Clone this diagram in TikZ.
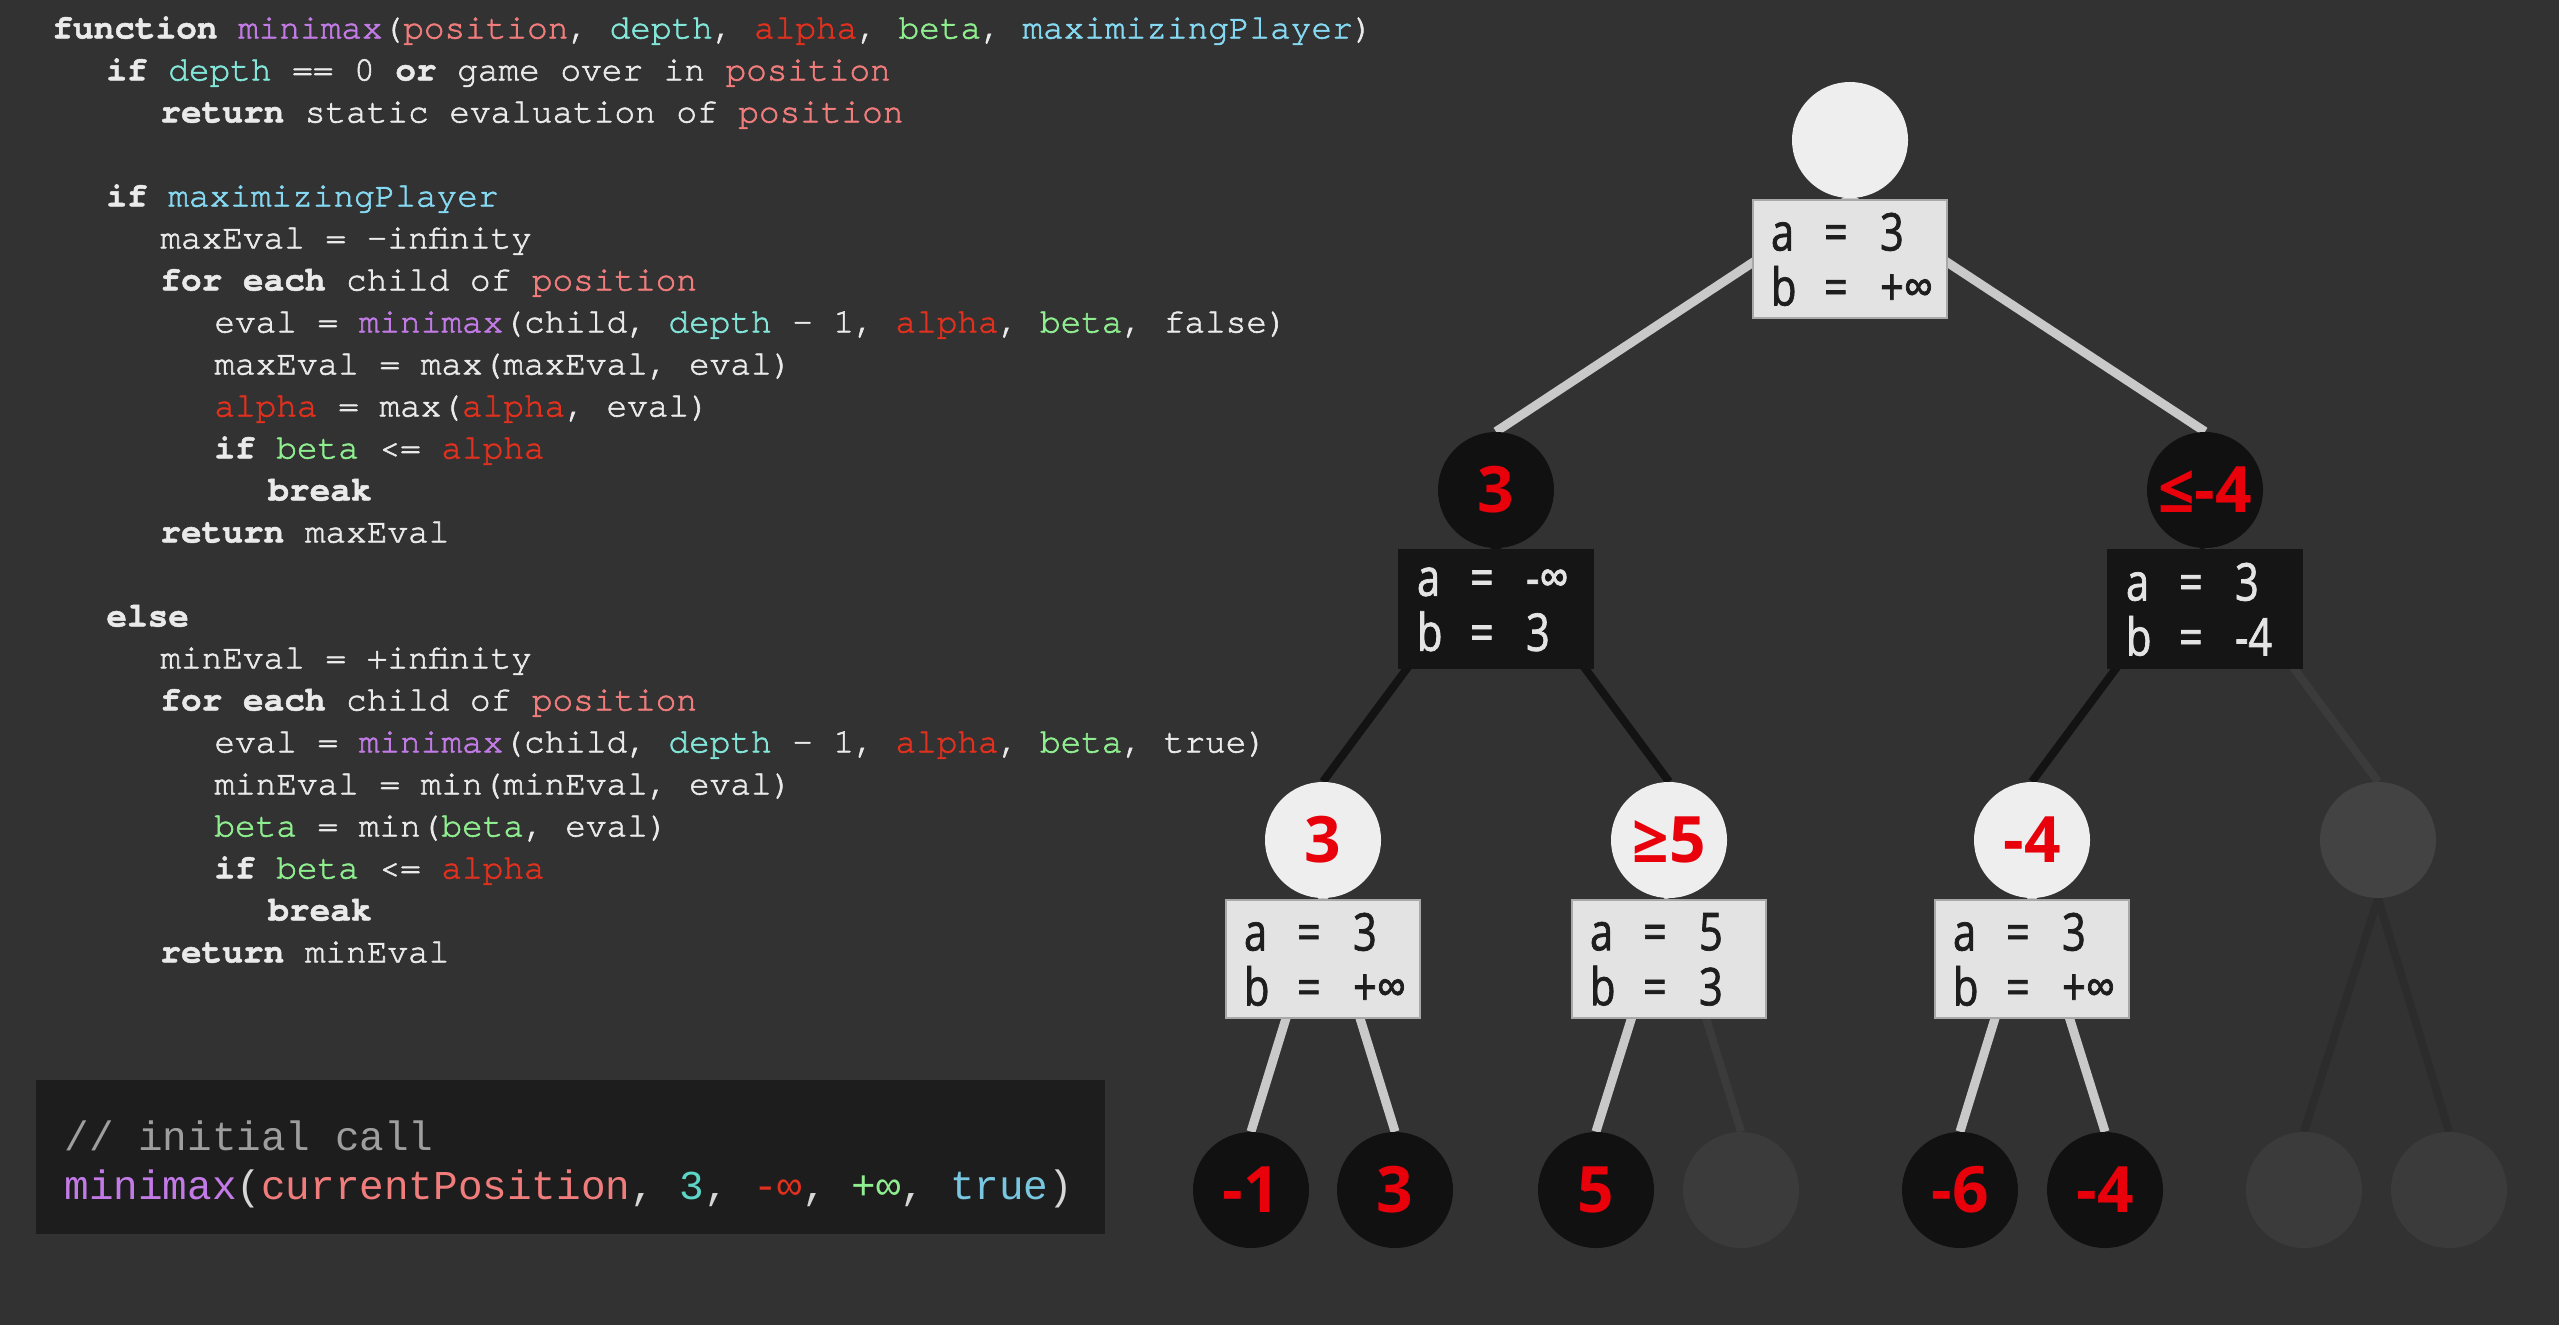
\documentclass[tikz,border=0pt]{standalone}
\usepackage{fontspec}
\usetikzlibrary{positioning}
\newfontfamily\codefont{texgyrecursor}[Extension=.otf, UprightFont=*-regular,
  BoldFont=*-bold, UprightFeatures={FakeBold=1.8}, BoldFeatures={FakeBold=1.4}]
\newfontfamily\callfont{Liberation Mono}
\newfontfamily\nodefont{Open Sans}
\newfontfamily\abfont{Open Sans}[FakeStretch=0.8, FakeBold=1.4]

\definecolor{bgcol}{HTML}{323232}
\definecolor{litecol}{HTML}{EEEEEE}
\definecolor{darkcol}{HTML}{111111}
\definecolor{offcol}{HTML}{434343}
\definecolor{offleafcol}{HTML}{3B3B3B}
\definecolor{numred}{HTML}{E8000B}
\definecolor{boxlite}{HTML}{E3E3E3}
\definecolor{boxedge}{HTML}{A8A8A8}
\definecolor{boxink}{HTML}{1E1E1E}
\definecolor{boxdark}{HTML}{151515}
\definecolor{boxlight}{HTML}{E4E4E4}
\definecolor{edgelite}{HTML}{C9C9C9}
\definecolor{edgedark}{HTML}{131313}
\definecolor{edgeoff}{HTML}{3B3B3B}
\definecolor{edgeofflow}{HTML}{2C2C2C}
\definecolor{callbg}{HTML}{1D1D1D}
\definecolor{codeink}{HTML}{EAEAEA}
\definecolor{callink}{HTML}{D6D6D6}
\definecolor{fncol}{HTML}{C27BE6}
\definecolor{poscol}{HTML}{F07C7C}
\definecolor{depthcol}{HTML}{82E6D9}
\definecolor{alphacol}{HTML}{E0301E}
\definecolor{betacol}{HTML}{8FEE8F}
\definecolor{mxpcol}{HTML}{86D9F2}
\definecolor{truecol}{HTML}{78C6E0}
\definecolor{numcol}{HTML}{5CD6C6}
\definecolor{cmtcol}{HTML}{9E9E9E}

\pgfdeclarelayer{behind}
\pgfsetlayers{behind,main}

% code colouring
\newcommand{\kw}[1]{\textbf{#1}}
\newcommand{\fn}[1]{\textcolor{fncol}{#1}}
\newcommand{\pos}[1]{\textcolor{poscol}{#1}}
\newcommand{\dep}[1]{\textcolor{depthcol}{#1}}
\newcommand{\alp}[1]{\textcolor{alphacol}{#1}}
\newcommand{\bet}[1]{\textcolor{betacol}{#1}}
\newcommand{\mxp}[1]{\textcolor{mxpcol}{#1}}
\newcommand{\lvl}[1]{\hspace*{\numexpr#1*27\relax pt}}
% alpha/beta box text
\newcommand{\ab}[2]{\parbox{79pt}{\abfont\fontsize{26pt}{27.5pt}\selectfont%
  \makebox[26.5pt][l]{a}\makebox[28pt][l]{=}#1\\%
  \makebox[26.5pt][l]{b}\makebox[28pt][l]{=}#2}}

\tikzset{
  maxnode/.style={circle, fill=litecol, minimum size=58pt, inner sep=0pt, text=numred,
    font=\nodefont\bfseries\fontsize{32pt}{32pt}\selectfont},
  minnode/.style={maxnode, fill=darkcol},
  offnode/.style={maxnode, fill=offcol},
  offleaf/.style={maxnode, fill=offleafcol},
  litebox/.style={rectangle, fill=boxlite, draw=boxedge, line width=1pt, minimum width=97pt,
    minimum height=59pt, inner sep=0pt, text=boxink},
  darkbox/.style={litebox, fill=boxdark, draw=boxdark, text=boxlight},
  liteedge/.style={draw=edgelite, line width=4.5pt},
  darkedge/.style={draw=edgedark, line width=4pt},
  offedge/.style={draw=edgeoff, line width=4pt},
  offedgelow/.style={draw=edgeofflow, line width=4pt},
  codetext/.style={align=left, inner sep=0pt, text=codeink,
    font=\codefont\fontsize{17.2pt}{21pt}\selectfont},
  callbox/.style={fill=callbg, minimum width=534.5pt, minimum height=77pt},
  calltext/.style={align=left, inner sep=0pt, text=callink,
    font=\callfont\fontsize{20.5pt}{24.5pt}\selectfont}
}

\begin{document}
\begin{tikzpicture}[x=0.5pt, y=-0.5pt]
\useasboundingbox (0,0) rectangle (2559,1324);

% pseudocode
\node[codetext, anchor=north west] (code) at (52,16) {%
\kw{function} \fn{minimax}(\pos{position}, \dep{depth}, \alp{alpha}, \bet{beta}, \mxp{maximizingPlayer})\\
\lvl1\kw{if} \dep{depth} == 0 \kw{or} game over in \pos{position}\\
\lvl2\kw{return} static evaluation of \pos{position}\\[21pt]
\lvl1\kw{if} \mxp{maximizingPlayer}\\
\lvl2maxEval = -infinity\\
\lvl2\kw{for each} child of \pos{position}\\
\lvl3eval = \fn{minimax}(child, \dep{depth} - 1, \alp{alpha}, \bet{beta}, false)\\
\lvl3maxEval = max(maxEval, eval)\\
\lvl3\alp{alpha} = max(\alp{alpha}, eval)\\
\lvl3\kw{if} \bet{beta} <= \alp{alpha}\\
\lvl4\kw{break}\\
\lvl2\kw{return} maxEval\\[21pt]
\lvl1\kw{else}\\
\lvl2minEval = +infinity\\
\lvl2\kw{for each} child of \pos{position}\\
\lvl3eval = \fn{minimax}(child, \dep{depth} - 1, \alp{alpha}, \bet{beta}, true)\\
\lvl3minEval = min(minEval, eval)\\
\lvl3\bet{beta} = min(\bet{beta}, eval)\\
\lvl3\kw{if} \bet{beta} <= \alp{alpha}\\
\lvl4\kw{break}\\
\lvl2\kw{return} minEval};

% initial call
\node[callbox, anchor=north west] (call) at (36,1080) {};
\node[calltext, anchor=north west] (calltxt) at (64,1120) {%
\textcolor{cmtcol}{// initial call}\\
\fn{minimax}(\pos{currentPosition}, \textcolor{numcol}{3}, \alp{-∞}, \bet{+∞}, \textcolor{truecol}{true})};

% tree
\node[maxnode] (root) at (1850,140) {};
\node[litebox, below=0.5pt of root] (rootab) {\ab{3}{+∞}};

\node[minnode] (mn3) at (1496,490) {3};
\node[darkbox, below=0.5pt of mn3] (mn3ab) {\ab{-∞}{3}};
\node[minnode] (mnle4) at (2205,490) {≤-4};
\node[darkbox, below=0.5pt of mnle4] (mnle4ab) {\ab{3}{-4}};

\node[maxnode] (mx3) at (1323,840) {3};
\node[litebox, below=0.5pt of mx3] (mx3ab) {\ab{3}{+∞}};
\node[maxnode] (mxge5) at (1669,840) {≥5};
\node[litebox, below=0.5pt of mxge5] (mxge5ab) {\ab{5}{3}};
\node[maxnode] (mxm4) at (2032,840) {-4};
\node[litebox, below=0.5pt of mxm4] (mxm4ab) {\ab{3}{+∞}};
\node[offnode] (mxoff) at (2378,840) {};

\node[minnode] (lfm1) at (1251,1190) {-1};
\node[minnode] (lf3) at (1395,1190) {3};
\node[minnode] (lf5) at (1596,1190) {5};
\node[offleaf] (lfoffa) at (1741,1190) {};
\node[minnode] (lfm6) at (1960,1190) {-6};
\node[minnode] (lfm4) at (2105,1190) {-4};
\node[offleaf] (lfoffb) at (2304,1190) {};
\node[offleaf] (lfoffc) at (2449,1190) {};

\begin{pgfonlayer}{behind}
\fill[bgcol] (-10,-10) rectangle (2569,1334);
\draw[liteedge] (root.south) -- (mn3.north);
\draw[liteedge] (root.south) -- (mnle4.north);
\draw[darkedge] (mn3.south) -- (mx3.north);
\draw[darkedge] (mn3.south) -- (mxge5.north);
\draw[darkedge] (mnle4.south) -- (mxm4.north);
\draw[offedge] (mnle4.south) -- (mxoff.north);
\draw[liteedge] (mx3.south) -- (lfm1.north);
\draw[liteedge] (mx3.south) -- (lf3.north);
\draw[liteedge] (mxge5.south) -- (lf5.north);
\draw[offedge] (mxge5.south) -- (lfoffa.north);
\draw[liteedge] (mxm4.south) -- (lfm6.north);
\draw[liteedge] (mxm4.south) -- (lfm4.north);
\draw[offedgelow] (mxoff.south) -- (lfoffb.north);
\draw[offedgelow] (mxoff.south) -- (lfoffc.north);
\end{pgfonlayer}
\end{tikzpicture}
\end{document}
